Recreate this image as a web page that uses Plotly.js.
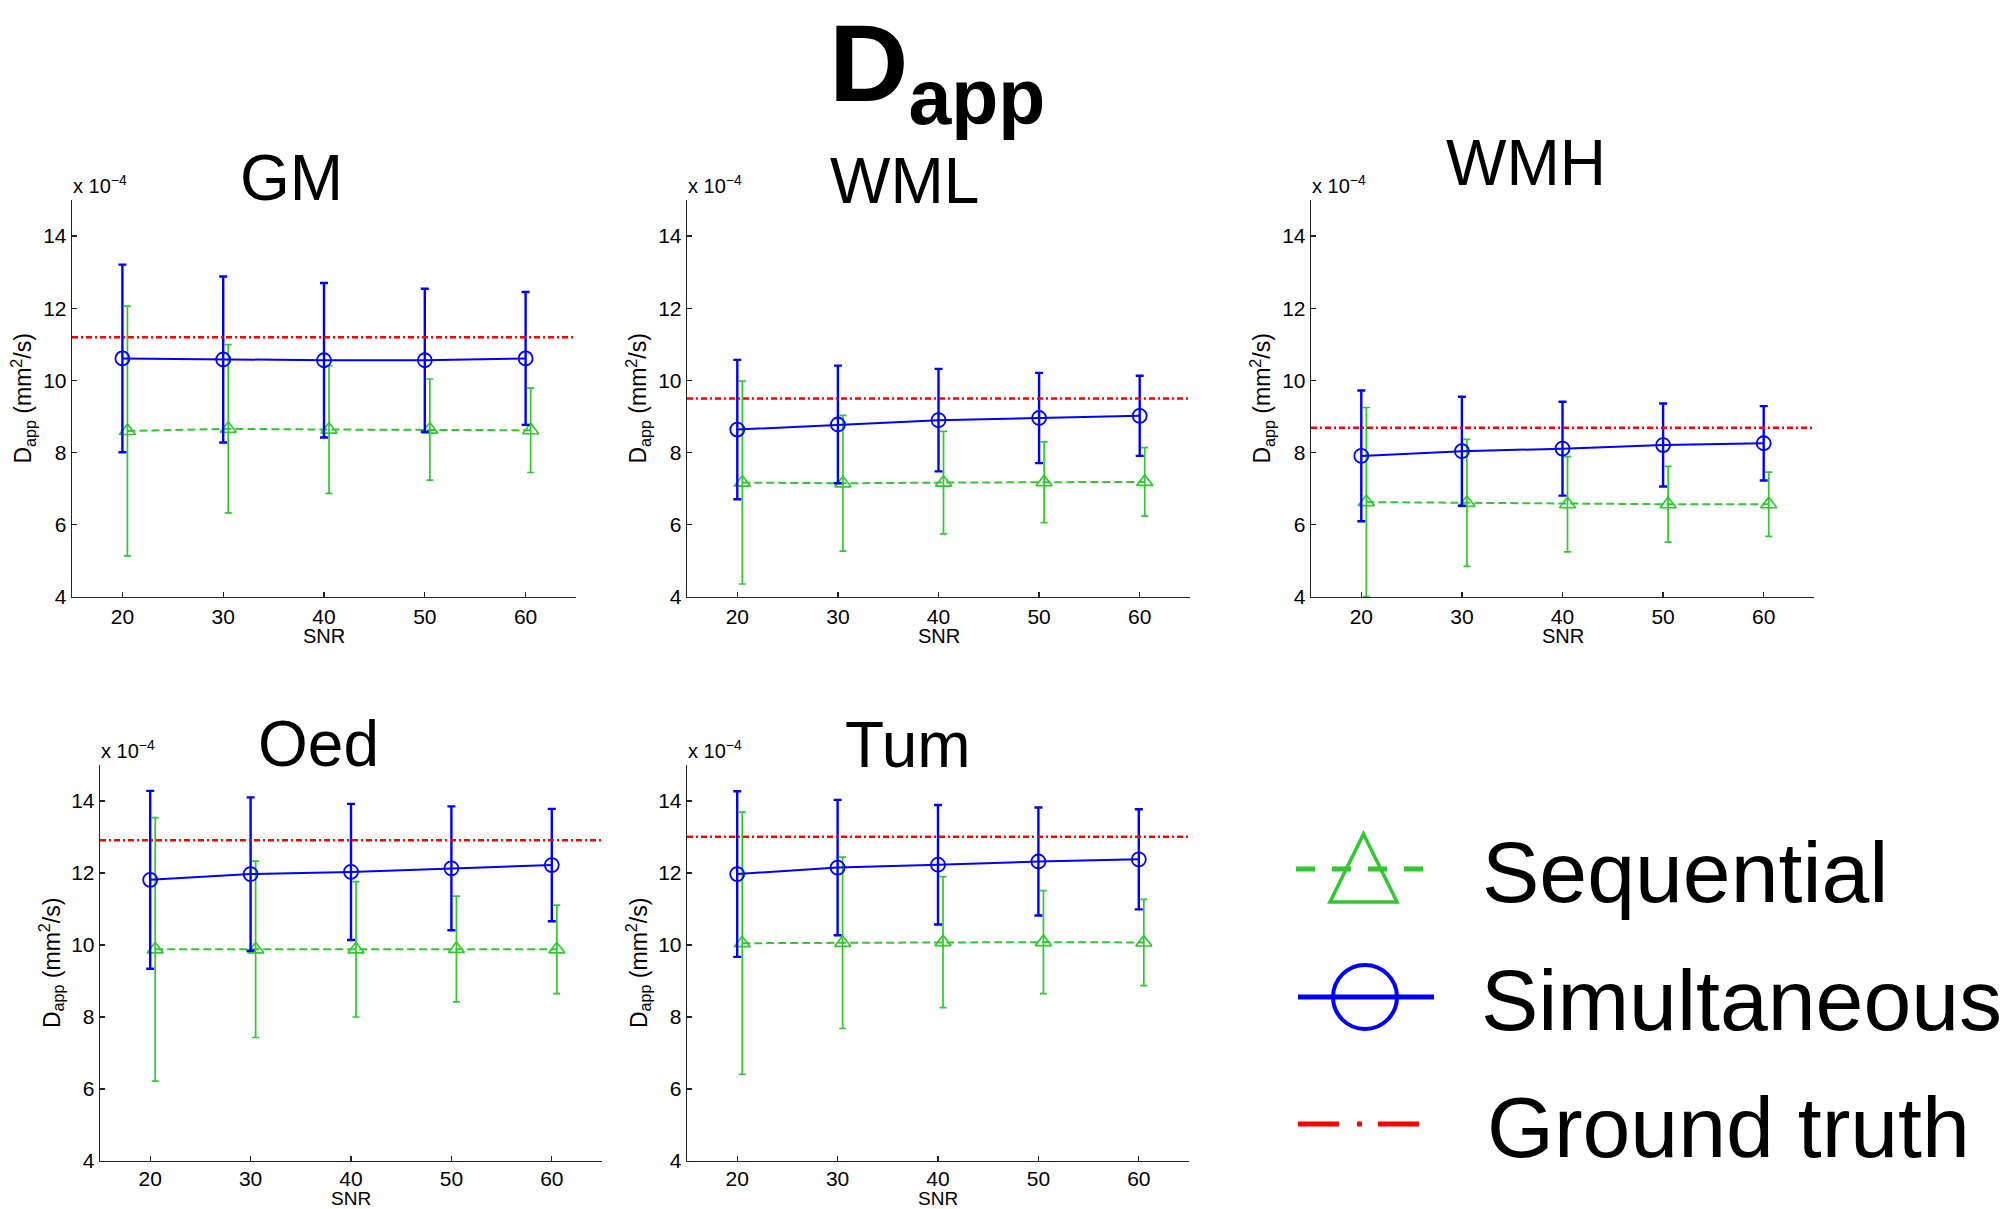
<!DOCTYPE html>
<html><head><meta charset="utf-8">
<script src="https://cdn.plot.ly/plotly-3.0.1.min.js"></script>
<style>html,body{margin:0;padding:0;background:#fff}#chart{width:2008px;height:1209px}</style>
</head><body><div id="chart"></div>
<script>
// ---------------- data (values in units of 1e-4 mm^2/s) ----------------
const snr = [20, 30, 40, 50, 60];
const regions = ['GM', 'WML', 'WMH', 'Oed', 'Tum'];

const gmSimMean  = [10.61, 10.58, 10.56, 10.56, 10.61];
const gmSimErr   = [2.60, 2.30, 2.14, 1.98, 1.84];
const gmSeqMean  = [8.60, 8.66, 8.64, 8.64, 8.62];
const gmSeqErr   = [3.46, 2.33, 1.77, 1.40, 1.17];

const wmlSimMean = [8.64, 8.78, 8.90, 8.96, 9.02];
const wmlSimErr  = [1.93, 1.63, 1.42, 1.25, 1.11];
const wmlSeqMean = [7.17, 7.15, 7.17, 7.18, 7.19];
const wmlSeqErr  = [2.81, 1.88, 1.42, 1.12, 0.95];

const wmhSimMean = [7.91, 8.04, 8.11, 8.21, 8.26];
const wmhSimErr  = [1.81, 1.51, 1.30, 1.15, 1.03];
const wmhSeqMean = [6.63, 6.61, 6.57, 6.57, 6.57];
const wmhSeqErr  = [2.62, 1.76, 1.32, 1.05, 0.89];

const oedSimMean = [11.81, 11.97, 12.03, 12.13, 12.22];
const oedSimErr  = [2.47, 2.13, 1.89, 1.72, 1.56];
const oedSeqMean = [9.88, 9.88, 9.88, 9.89, 9.88];
const oedSeqErr  = [3.66, 2.45, 1.88, 1.47, 1.23];

const tumSimMean = [11.97, 12.15, 12.23, 12.32, 12.38];
const tumSimErr  = [2.30, 1.88, 1.66, 1.50, 1.39];
const tumSeqMean = [10.05, 10.06, 10.08, 10.08, 10.07];
const tumSeqErr  = [3.64, 2.38, 1.82, 1.43, 1.20];

const groundTruth = [11.20, 9.50, 8.69, 12.91, 13.01];

const yTicks = [4, 6, 8, 10, 12, 14];
const xLimits = [15, 65];
const yLimits = [4, 15];
const seqShift = 0.5;   // sequential series drawn slightly right of the SNR value
const seriesNames = ['Sequential', 'Simultaneous', 'Ground truth'];

// ---------------- styles / layout ----------------
const W = 2008, H = 1209;
const FONT = 'Liberation Sans, Arial, Helvetica, sans-serif';
const GREEN = '#33c633', BLUE = '#0000ff', RED = '#ff0000', AX = '#222222';
const px = v => v / W;
const py = v => 1 - v / H;

const simMeans = [gmSimMean, wmlSimMean, wmhSimMean, oedSimMean, tumSimMean];
const simErrs  = [gmSimErr, wmlSimErr, wmhSimErr, oedSimErr, tumSimErr];
const seqMeans = [gmSeqMean, wmlSeqMean, wmhSeqMean, oedSeqMean, tumSeqMean];
const seqErrs  = [gmSeqErr, wmlSeqErr, wmhSeqErr, oedSeqErr, tumSeqErr];

const boxes = [
  {x0: 72,   x1: 576,  y0: 200, y1: 597,  lab: 46, snrSize: 20, tls: 0},
  {x0: 687,  x1: 1190, y0: 200, y1: 597,  lab: 46, snrSize: 20, tls: 0},
  {x0: 1311, x1: 1814, y0: 200, y1: 597,  lab: 46, snrSize: 20, tls: 0},
  {x0: 100,  x1: 602,  y0: 765, y1: 1161, lab: 44, snrSize: 19, tls: -2},
  {x0: 687,  x1: 1189, y0: 765, y1: 1161, lab: 44, snrSize: 19, tls: -2}
];
const titlePos = [
  {x: 291, b: 200}, {x: 904, b: 203}, {x: 1526, b: 185}, {x: 318, b: 766}, {x: 908, b: 767}
];

const data = [];
const layout = {
  width: W, height: H,
  margin: {l: 0, r: 0, t: 0, b: 0},
  paper_bgcolor: '#fff', plot_bgcolor: 'rgba(0,0,0,0)',
  showlegend: false,
  font: {family: FONT, color: '#000'},
  annotations: [], shapes: []
};

regions.forEach((reg, i) => {
  const n = i === 0 ? '' : String(i + 1);
  const xa = 'x' + n, ya = 'y' + n;
  const b = boxes[i];

  data.push({
    name: seriesNames[0], xaxis: xa, yaxis: ya, type: 'scatter', mode: 'lines+markers',
    x: snr.map(v => v + seqShift), y: seqMeans[i],
    line: {color: GREEN, width: 2, dash: '8px,4px'},
    marker: {symbol: 'triangle-up-open', size: 14, color: GREEN, line: {color: GREEN, width: 1.7}},
    error_y: {type: 'data', array: seqErrs[i], visible: true, color: GREEN, thickness: 1.7, width: 3.5},
    cliponaxis: false
  });
  data.push({
    name: seriesNames[1], xaxis: xa, yaxis: ya, type: 'scatter', mode: 'lines+markers',
    x: snr, y: simMeans[i],
    line: {color: BLUE, width: 2},
    marker: {symbol: 'circle-open', size: 14, color: BLUE, line: {color: BLUE, width: 1.8}},
    error_y: {type: 'data', array: simErrs[i], visible: true, color: BLUE, thickness: 2.4, width: 4},
    cliponaxis: false
  });
  data.push({
    name: seriesNames[2], xaxis: xa, yaxis: ya, type: 'scatter', mode: 'lines',
    x: xLimits, y: [groundTruth[i], groundTruth[i]],
    line: {color: RED, width: 2.5, dash: '6px,3px,2px,3px'}
  });

  const axCommon = {
    showline: true, linecolor: AX, linewidth: 1.3,
    ticks: 'inside', ticklen: 5, tickwidth: 1.2, tickcolor: AX,
    tickfont: {family: FONT, size: 21, color: '#000'},
    showgrid: false, zeroline: false, fixedrange: true
  };
  layout['xaxis' + n] = Object.assign({}, axCommon, {
    domain: [px(b.x0), px(b.x1)], range: xLimits, anchor: ya,
    tickmode: 'array', tickvals: snr, ticktext: snr.map(String), ticklabelstandoff: b.tls
  });
  layout['yaxis' + n] = Object.assign({}, axCommon, {
    domain: [py(b.y1), py(b.y0)], range: yLimits, anchor: xa,
    tickmode: 'array', tickvals: yTicks, ticktext: yTicks.map(String)
  });

  const A = layout.annotations;
  // panel title
  A.push({text: reg, xref: 'paper', yref: 'paper', x: px(titlePos[i].x), y: py(titlePos[i].b - 0.3465 * 64),
          xanchor: 'center', yanchor: 'middle', showarrow: false, font: {family: FONT, size: 64}});
  // exponent label
  A.push({text: 'x 10<sup>\u22124</sup>', xref: 'paper', yref: 'paper', x: px(b.x0 - 1), y: py(b.y0 - 1),
          xanchor: 'left', yanchor: 'bottom', showarrow: false, font: {family: FONT, size: 20}});
  // y label
  A.push({text: 'D<sub>app</sub> (mm<sup>2</sup>/s)', xref: 'paper', yref: 'paper', textangle: -90,
          x: px(b.x0 - 49), y: py((b.y0 + b.y1) / 2), xanchor: 'center', yanchor: 'middle',
          showarrow: false, font: {family: FONT, size: 23}});
  // x label
  A.push({text: 'SNR', xref: 'paper', yref: 'paper', x: px((b.x0 + b.x1) / 2),
          y: py(b.y1 + b.lab - 0.3465 * b.snrSize), borderpad: 0,
          xanchor: 'center', yanchor: 'middle', showarrow: false, font: {family: FONT, size: b.snrSize}});
});

// main title
layout.annotations.push({
  text: 'D<sub>app</sub>', xref: 'paper', yref: 'paper', x: px(828), y: py(0), borderpad: 0,
  xanchor: 'left', yanchor: 'top', showarrow: false, font: {family: FONT, size: 110, weight: 700}
});

// ---------------- legend (drawn on a hidden axis measured in pixels) ----------------
layout.xaxis6 = {domain: [px(1270), px(1460)], range: [1270, 1460], visible: false, fixedrange: true, anchor: 'y6'};
layout.yaxis6 = {domain: [py(1190), py(810)], range: [1190, 810], visible: false, fixedrange: true, anchor: 'x6'};
const legendRows = [
  {lineX: [1296, 1426], y: 869, text: 1482, base: 902},
  {lineX: [1298, 1434], y: 997, text: 1481, base: 1030},
  {lineX: [1298, 1419], y: 1124, text: 1487, base: 1157}
];
data.push({xaxis: 'x6', yaxis: 'y6', type: 'scatter', mode: 'lines', hoverinfo: 'skip',
  x: legendRows[0].lineX, y: [legendRows[0].y, legendRows[0].y],
  line: {color: GREEN, width: 5, dash: '19px,17px'}});
data.push({xaxis: 'x6', yaxis: 'y6', type: 'scatter', mode: 'lines', hoverinfo: 'skip',
  x: legendRows[1].lineX, y: [legendRows[1].y, legendRows[1].y],
  line: {color: BLUE, width: 5}});
data.push({xaxis: 'x6', yaxis: 'y6', type: 'scatter', mode: 'markers', hoverinfo: 'skip',
  x: [(legendRows[1].lineX[0] + legendRows[1].lineX[1]) / 2 - 1], y: [legendRows[1].y],
  marker: {symbol: 'circle-open', size: 64, color: BLUE, line: {color: BLUE, width: 4}}});
data.push({xaxis: 'x6', yaxis: 'y6', type: 'scatter', mode: 'lines', hoverinfo: 'skip',
  x: legendRows[2].lineX, y: [legendRows[2].y, legendRows[2].y],
  line: {color: RED, width: 5, dash: '41px,18px,5px,16px'}});
// legend triangle glyph
layout.shapes.push({type: 'path', xref: 'x6', yref: 'y6',
  path: 'M 1330 902 L 1397 902 L 1363.5 834 Z', line: {color: GREEN, width: 3.5}, fillcolor: 'rgba(0,0,0,0)'});
legendRows.forEach((r, k) => {
  layout.annotations.push({text: seriesNames[k], xref: 'paper', yref: 'paper',
    x: px(r.text - 2), y: py(r.base - 0.3465 * 86), xanchor: 'left', yanchor: 'middle',
    showarrow: false, font: {family: FONT, size: 86}});
});

Plotly.newPlot('chart', data, layout, {displayModeBar: false, staticPlot: true});
</script></body></html>
